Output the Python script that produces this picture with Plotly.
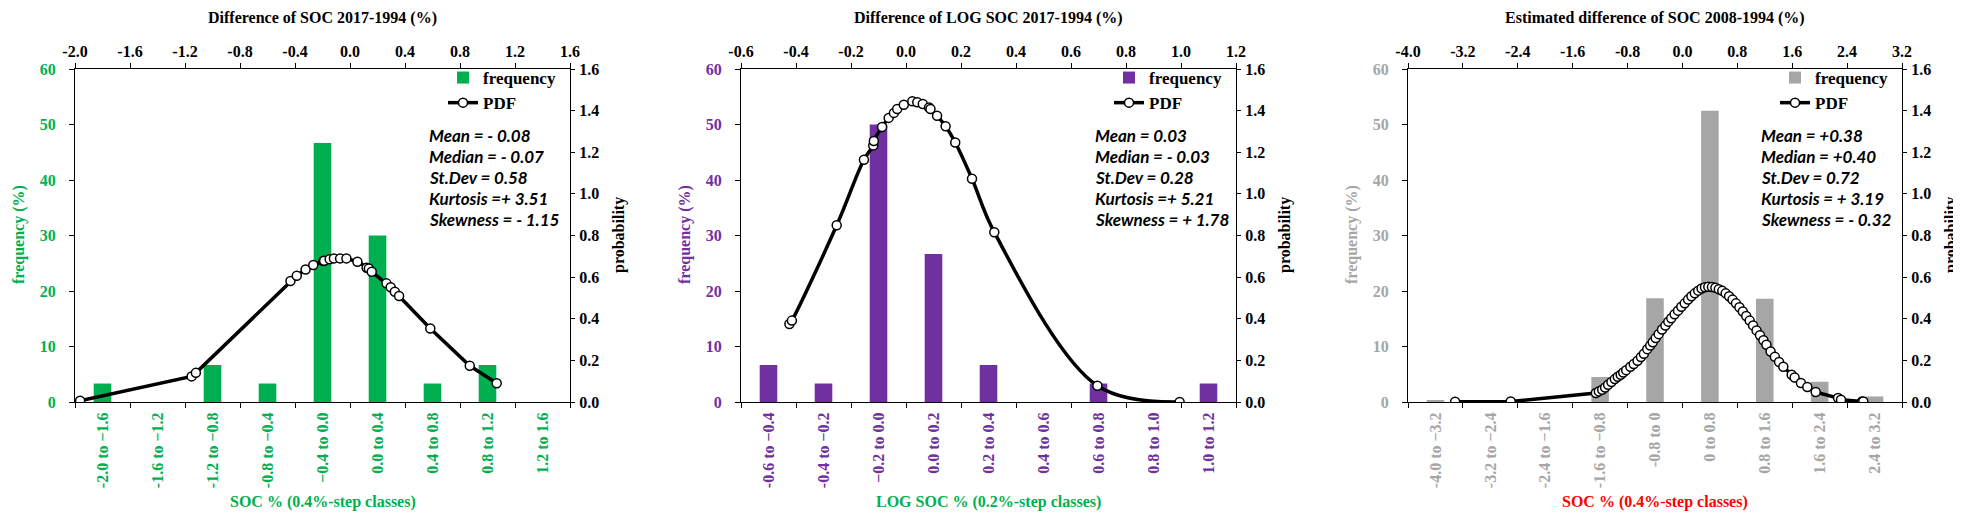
import plotly.graph_objects as go

# ---------------- data ----------------
classes1 = ["-2.0 to \u22121.6", "-1.6 to \u22121.2", "-1.2 to \u22120.8", "-0.8 to \u22120.4", "\u22120.4 to 0.0",
            "0.0 to 0.4", "0.4 to 0.8", "0.8 to 1.2", "1.2 to 1.6"]
mid1 = [-1.8, -1.4, -1.0, -0.6, -0.2, 0.2, 0.6, 1.0, 1.4]
freq1 = [3.33, 0, 6.67, 3.33, 46.67, 30.0, 3.33, 6.67, 0]
pdf1_x = [-1.963, -1.152, -1.121, -0.433, -0.387, -0.323, -0.267, -0.194, -0.188, -0.148, -0.117,
          -0.072, -0.026, 0.054, 0.121, 0.137, 0.158, 0.265, 0.296, 0.326, 0.357, 0.584, 0.871, 1.067]
pdf1_y = [0.006, 0.123, 0.140, 0.581, 0.607, 0.637, 0.658, 0.677, 0.679, 0.686, 0.690,
          0.690, 0.690, 0.674, 0.645, 0.642, 0.626, 0.570, 0.551, 0.530, 0.509, 0.353, 0.174, 0.090]
ticks1 = [-2.0, -1.6, -1.2, -0.8, -0.4, 0.0, 0.4, 0.8, 1.2, 1.6]
stats1 = ["Mean = - 0.08", "Median = - 0.07", "St.Dev = 0.58", "Kurtosis =+ 3.51", "Skewness = - 1.15"]

classes2 = ["-0.6 to \u22120.4", "-0.4 to \u22120.2", "\u22120.2 to 0.0", "0.0 to 0.2", "0.2 to 0.4",
            "0.4 to 0.6", "0.6 to 0.8", "0.8 to 1.0", "1.0 to 1.2"]
mid2 = [-0.5, -0.3, -0.1, 0.1, 0.3, 0.5, 0.7, 0.9, 1.1]
freq2 = [6.67, 3.33, 50.0, 26.67, 6.67, 0, 3.33, 0, 3.33]
pdf2_x = [-0.424, -0.415, -0.252, -0.153, -0.119, -0.117, -0.087, -0.063, -0.044, -0.032, -0.008,
          0.023, 0.041, 0.061, 0.084, 0.089, 0.113, 0.144, 0.179, 0.240, 0.321, 0.696, 0.995]
pdf2_y = [0.375, 0.391, 0.849, 1.164, 1.233, 1.254, 1.321, 1.365, 1.389, 1.408, 1.428,
          1.445, 1.440, 1.432, 1.415, 1.408, 1.375, 1.325, 1.247, 1.073, 0.816, 0.078, 0.0]
ticks2 = [-0.6, -0.4, -0.2, 0.0, 0.2, 0.4, 0.6, 0.8, 1.0, 1.2]
stats2 = ["Mean = 0.03", "Median = - 0.03", "St.Dev = 0.28", "Kurtosis =+ 5.21", "Skewness = + 1.78"]

classes3 = ["-4.0 to \u22123.2", "-3.2 to \u22122.4", "-2.4 to \u22121.6", "-1.6 to \u22120.8", "-0.8 to 0",
            "0 to 0.8", "0.8 to 1.6", "1.6 to 2.4", "2.4 to 3.2"]
mid3 = [-3.6, -2.8, -2.0, -1.2, -0.4, 0.4, 1.2, 2.0, 2.8]
freq3 = [0.25, 0, 0, 4.5, 18.7, 52.5, 18.6, 3.65, 1.0]
pdf3_x = [-3.313, -2.503, -1.262, -1.219, -1.170, -1.127, -1.084, -1.035, -0.986, -0.943, -0.900,
          -0.863, -0.820, -0.759, -0.710, -0.654, -0.605, -0.562, -0.513, -0.470, -0.433, -0.390,
          -0.347, -0.298, -0.249, -0.206, -0.163, -0.114, -0.065, -0.016, 0.033, 0.082, 0.131,
          0.180, 0.230, 0.279, 0.328, 0.377, 0.43, 0.48, 0.53, 0.58, 0.63, 0.68, 0.73, 0.78, 0.83,
          0.88, 0.93, 0.98, 1.03, 1.08, 1.13, 1.18, 1.224, 1.285, 1.347, 1.408, 1.470, 1.592,
          1.635, 1.727, 1.820, 1.942, 2.268, 2.311, 2.618, 2.636]
pdf3_y = [0.001, 0.002, 0.043, 0.051, 0.059, 0.070, 0.083, 0.096, 0.110, 0.121, 0.131,
          0.142, 0.153, 0.169, 0.182, 0.198, 0.216, 0.232, 0.254, 0.271, 0.287, 0.307,
          0.326, 0.348, 0.367, 0.386, 0.402, 0.422, 0.439, 0.458, 0.474, 0.492, 0.508,
          0.522, 0.535, 0.545, 0.551, 0.554, 0.552, 0.549, 0.542, 0.534, 0.522, 0.508, 0.492,
          0.474, 0.455, 0.435, 0.413, 0.391, 0.368, 0.344, 0.321, 0.297, 0.275, 0.243, 0.217,
          0.192, 0.169, 0.131, 0.118, 0.091, 0.072, 0.048, 0.019, 0.011, 0.003, 0.002]
ticks3 = [-4.0, -3.2, -2.4, -1.6, -0.8, 0.0, 0.8, 1.6, 2.4, 3.2]
stats3 = ["Mean = +0.38", "Median = +0.40", "St.Dev = 0.72", "Kurtosis = + 3.19", "Skewness = - 0.32"]

freq_ticks = [0, 10, 20, 30, 40, 50, 60]
prob_ticks = [0.0, 0.2, 0.4, 0.6, 0.8, 1.0, 1.2, 1.4, 1.6]

top_titles = ["Difference of SOC 2017-1994 (%)", "Difference of LOG SOC 2017-1994 (%)",
              "Estimated difference of SOC 2008-1994 (%)"]
bottom_titles = ["SOC % (0.4%-step classes)", "LOG SOC % (0.2%-step classes)", "SOC % (0.4%-step classes)"]

# ---------------- style ----------------
W, H = 1961, 512
SERIF = "Liberation Serif"
GREEN, PURPLE, GRAY, RED = "#00B050", "#7030A0", "#A6A6A6", "#FF0000"
panels = [
    dict(classes=classes1, mid=mid1, freq=freq1, px=pdf1_x, py=pdf1_y, ticks=ticks1, stats=stats1,
         color=GREEN, btcolor=GREEN, left=67, right=562, shape="linear"),
    dict(classes=classes2, mid=mid2, freq=freq2, px=pdf2_x, py=pdf2_y, ticks=ticks2, stats=stats2,
         color=PURPLE, btcolor=GREEN, left=733, right=1228, shape="spline"),
    dict(classes=classes3, mid=mid3, freq=freq3, px=pdf3_x, py=pdf3_y, ticks=ticks3, stats=stats3,
         color=GRAY, btcolor=RED, left=1400, right=1894, shape="linear"),
]
TOP, BOT = 61, 394

def fx(p):
    return p / W

def fy(p):
    return 1 - p / H

fig = go.Figure()
annotations = []
layout = dict(width=W, height=H, margin=dict(l=0, r=0, t=0, b=0),
              plot_bgcolor="white", paper_bgcolor="white", showlegend=True,
              font=dict(family=SERIF, color="black"))

for k, p in enumerate(panels):
    n = 2 * k + 1
    xb, xt = f"x{'' if n == 1 else n}", f"x{n + 1}"
    yl, yr = f"y{'' if n == 1 else n}", f"y{n + 1}"
    kxb, kxt = f"xaxis{'' if n == 1 else n}", f"xaxis{n + 1}"
    kyl, kyr = f"yaxis{'' if n == 1 else n}", f"yaxis{n + 1}"
    lg = "legend" if k == 0 else f"legend{k + 1}"
    step = p["ticks"][1] - p["ticks"][0]
    rng = [p["ticks"][0], p["ticks"][-1]]

    fig.add_trace(go.Bar(x=p["mid"], y=p["freq"], width=step * 0.32, marker_color=p["color"],
                         marker_line_width=0, name="frequency", xaxis=xb, yaxis=yl, legend=lg))
    fig.add_trace(go.Scatter(x=p["px"], y=p["py"], mode="lines+markers", name="PDF",
                             line=dict(color="black", width=3.5, shape=p["shape"], smoothing=1.0),
                             marker=dict(size=9, color="white", line=dict(color="black", width=1.5)),
                             xaxis=xt, yaxis=yr, legend=lg))

    dom = [fx(p["left"]), fx(p["right"])]
    common = dict(showline=True, linecolor="black", linewidth=1, showgrid=False, zeroline=False,
                  automargin=False, fixedrange=True)
    layout[kxb] = dict(common, domain=dom, range=rng, anchor=yl, side="bottom",
                       tickmode="array", tickvals=p["mid"], ticktext=p["classes"], tickangle=-90,
                       ticks="", ticklabelstandoff=3,
                       minor=dict(tickmode="array", tickvals=p["ticks"], ticks="outside", ticklen=5,
                                  tickcolor="black", tickwidth=1),
                       tickfont=dict(family=SERIF, size=16, color=p["color"], weight="bold"))
    layout[kxt] = dict(common, range=rng, overlaying=xb, anchor=yl, side="top",
                       tickmode="array", tickvals=p["ticks"], ticktext=[f"{v:.1f}" for v in p["ticks"]],
                       ticks="outside", ticklen=5, tickcolor="black",
                       tickfont=dict(family=SERIF, size=16, color="black", weight="bold"))
    layout[kyl] = dict(common, domain=[fy(BOT), fy(TOP)], range=[0, 60], anchor=xb,
                       tickmode="array", tickvals=freq_ticks, ticktext=[str(v) for v in freq_ticks],
                       ticks="outside", ticklen=5, tickcolor="black", ticklabelstandoff=10,
                       tickfont=dict(family=SERIF, size=16, color=p["color"], weight="bold"))
    layout[kyr] = dict(common, range=[0, 1.6], overlaying=yl, anchor=xb, side="right",
                       tickmode="array", tickvals=prob_ticks, ticktext=[f"{v:.1f}" for v in prob_ticks],
                       ticks="outside", ticklen=4, tickcolor="black", ticklabelstandoff=1,
                       tickfont=dict(family=SERIF, size=16, color="black", weight="bold"))
    layout[lg] = dict(x=fx(p["right"] - 127), y=fy(TOP - 9), xanchor="left", yanchor="top",
                      bgcolor="rgba(0,0,0,0)", itemwidth=30, tracegroupgap=0,
                      font=dict(family=SERIF, size=17, color="black", weight="bold"))

    cx = (p["left"] + p["right"]) / 2
    annotations.append(dict(x=fx(cx), y=fy(10), xref="paper", yref="paper", showarrow=False,
                            xanchor="center", yanchor="middle",
                            text=f"<b>{top_titles[k]}</b>", font=dict(family=SERIF, size=16, color="black")))
    annotations.append(dict(x=fx(cx), y=fy(494), xref="paper", yref="paper", showarrow=False,
                            xanchor="center", yanchor="middle",
                            text=f"<b>{bottom_titles[k]}</b>", font=dict(family=SERIF, size=16, color=p["btcolor"])))
    annotations.append(dict(x=fx(p["left"] - 56), y=fy(227), xref="paper", yref="paper", showarrow=False,
                            xanchor="center", yanchor="middle", textangle=-90, text="<b>frequency (%)</b>",
                            font=dict(family=SERIF, size=16, color=p["color"])))
    annotations.append(dict(x=fx(p["right"] + 49), y=fy(227), xref="paper", yref="paper", showarrow=False,
                            xanchor="center", yanchor="middle", textangle=-90, text="<b>probability</b>",
                            font=dict(family=SERIF, size=16, color="black")))
    for i, s in enumerate(p["stats"]):
        annotations.append(dict(x=fx(p["right"] - 143), y=fy(132 + 21 * i - 5), xref="paper", yref="paper",
                                xanchor="left", yanchor="middle", showarrow=False, text=f"<b><i>{s}</i></b>",
                                font=dict(family="Lato", size=17, color="black")))

layout["annotations"] = annotations
fig.update_layout(**layout)
fig.write_html("out.html")
